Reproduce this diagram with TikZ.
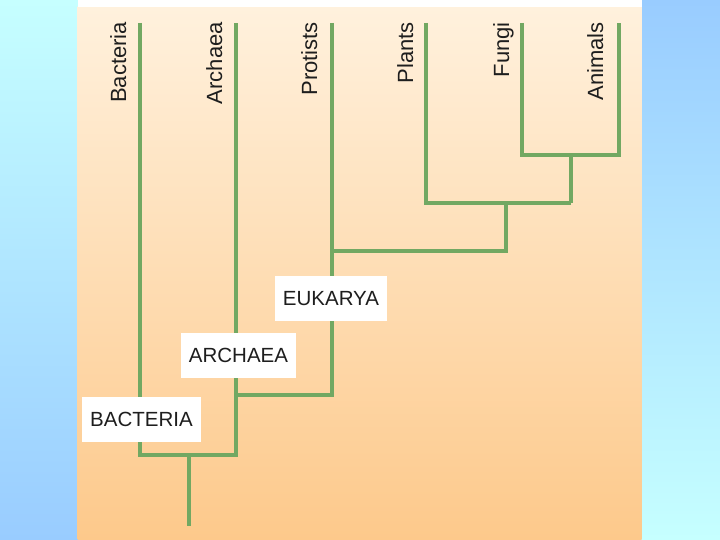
\documentclass[tikz,border=0pt]{standalone}
\usepackage{fontspec}
\setmainfont{Liberation Sans}
\definecolor{cyanbg}{RGB}{198,255,255}
\definecolor{bluebg}{RGB}{153,204,255}
\definecolor{paneltop}{RGB}{255,241,221}
\definecolor{panelbot}{RGB}{253,201,139}
\definecolor{branchgreen}{RGB}{114,168,98}
\definecolor{labeltext}{RGB}{30,30,30}
\begin{document}
\begin{tikzpicture}[x=1pt,y=-1pt,
  branch/.style={draw=branchgreen, line width=4pt, line join=miter, line cap=butt},
  taxon/.style={rotate=90, anchor=base east, inner sep=0pt, font=\fontsize{22}{26}\selectfont, text=labeltext},
  domainbox/.style={fill=white, inner xsep=8pt, inner ysep=0pt, minimum height=45pt, font=\fontsize{20.5}{24}\selectfont, text=labeltext}]
\useasboundingbox (0,0) rectangle (720,540);
% background
\shade[top color=cyanbg, bottom color=bluebg] (0,0) rectangle (78,540);
\shade[top color=bluebg, bottom color=cyanbg] (641,0) rectangle (720,540);
\shade[top color=paneltop, bottom color=panelbot] (77.5,7) rectangle (641.5,540);
\fill[white] (77.5,0) rectangle (641.5,7);
% coordinates
\coordinate (tBac) at (140,23);
\coordinate (tArc) at (236,23);
\coordinate (tPro) at (332,23);
\coordinate (tPla) at (426,23);
\coordinate (tFun) at (522,23);
\coordinate (tAni) at (619,23);
\coordinate (kFA) at (571,155);
\coordinate (kFAb) at (571,203);
\coordinate (kPFA) at (506,203);
\coordinate (kE) at (332,251);
\coordinate (kAEl) at (236,395);
\coordinate (kBA) at (236,455);
\coordinate (kRoot) at (189,455);
\coordinate (base) at (189,526);
% tree
\draw[branch] (tBac) |- (kBA) -- (tArc);
\draw[branch] (kRoot) -- (base);
\draw[branch] (tPro) |- (kAEl);
\draw[branch] (kE) -| (kPFA);
\draw[branch] (tPla) |- (kFAb);
\draw[branch] (kFAb) -- (kFA);
\draw[branch] (tFun) |- (kFA) -| (tAni);
% taxon labels
\node[taxon] (lBac) at (126,22) {Bacteria};
\node[taxon] (lArc) at (222,22) {Archaea};
\node[taxon] (lPro) at (317,22) {Protists};
\node[taxon] (lPla) at (413,22) {Plants};
\node[taxon] (lFun) at (509,22) {Fungi};
\node[taxon] (lAni) at (603,22) {Animals};
% domain boxes
\node[domainbox] (bEuk) at (331,298.5) {EUKARYA};
\node[domainbox] (bArc) at (238.5,355) {ARCHAEA};
\node[domainbox] (bBac) at (141.5,419) {BACTERIA};
\end{tikzpicture}
\end{document}
